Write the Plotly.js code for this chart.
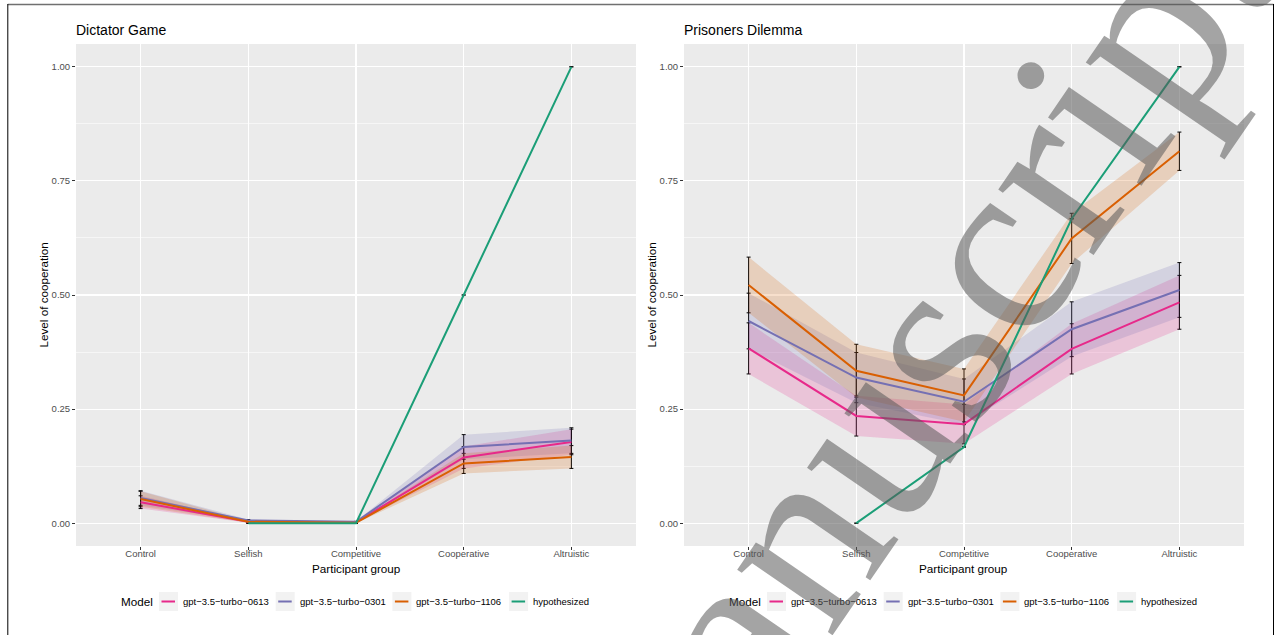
<!DOCTYPE html>
<html>
<head>
<meta charset="utf-8">
<script src="https://cdn.plot.ly/plotly-3.0.1.min.js"></script>
<style>
html,body{margin:0;padding:0;overflow:hidden;background:#ffffff;}
#chart{width:1276px;height:635px;overflow:hidden;}
</style>
</head>
<body>
<div id="chart"></div>
<script>
// ---------- data ----------
const categories = ['Control', 'Selfish', 'Competitive', 'Cooperative', 'Altruistic'];
const models = ['gpt\u22123.5\u2212turbo\u22120613', 'gpt\u22123.5\u2212turbo\u22120301', 'gpt\u22123.5\u2212turbo\u22121106', 'hypothesized'];

// Dictator Game: mean level of cooperation and standard error
const dgMean0613 = [0.046, 0.003, 0.002, 0.144, 0.178];
const dgSe0613   = [0.014, 0.002, 0.001, 0.024, 0.028];
const dgMean0301 = [0.055, 0.006, 0.003, 0.167, 0.181];
const dgSe0301   = [0.016, 0.002, 0.001, 0.027, 0.028];
const dgMean1106 = [0.053, 0.003, 0.001, 0.131, 0.145];
const dgSe1106   = [0.017, 0.002, 0.001, 0.022, 0.025];
const dgHyp      = [null, 0, 0, 0.5, 1.0];
const dgHypSe    = [0, 0, 0, 0, 0];

// Prisoners Dilemma
const pdMean0613 = [0.383, 0.235, 0.217, 0.382, 0.484];
const pdSe0613   = [0.056, 0.044, 0.043, 0.055, 0.059];
const pdMean0301 = [0.443, 0.319, 0.266, 0.425, 0.511];
const pdSe0301   = [0.061, 0.055, 0.050, 0.060, 0.060];
const pdMean1106 = [0.522, 0.334, 0.280, 0.624, 0.815];
const pdSe1106   = [0.061, 0.058, 0.058, 0.055, 0.042];
const pdHyp      = [null, 0, 0.167, 0.667, 1.0];
const pdHypSe    = [0, 0, 0, 0, 0];

const yTicks = [0, 0.25, 0.5, 0.75, 1.0];

// ---------- style ----------
const colors = ['#E7298A', '#7570B3', '#D95F02', '#1B9E77'];
const ribbonColors = ['rgba(231,41,138,0.2)', 'rgba(117,112,179,0.2)', 'rgba(217,95,2,0.2)'];
const W = 1276, H = 635;
const px = x => x / W;
const py = y => 1 - y / H;

function panelTraces(xa, ya, means, ses) {
  const traces = [];
  // error bars (drawn first, below ribbons)
  means.forEach((m, i) => {
    traces.push({
      x: categories, y: m, xaxis: xa, yaxis: ya, mode: 'markers', type: 'scatter',
      marker: {size: 1, opacity: 0},
      error_y: {type: 'data', array: ses[i], visible: true, color: '#000000', thickness: 1, width: 2},
      showlegend: false, hoverinfo: 'skip'
    });
  });
  // ribbons (mean +/- se) for the model series
  for (let i = 0; i < 3; i++) {
    const upper = means[i].map((v, k) => v + ses[i][k]);
    const lower = means[i].map((v, k) => v - ses[i][k]);
    traces.push({
      x: categories.concat(categories.slice().reverse()),
      y: upper.concat(lower.slice().reverse()),
      xaxis: xa, yaxis: ya, type: 'scatter', mode: 'lines', fill: 'toself',
      fillcolor: ribbonColors[i], line: {width: 0, color: 'rgba(0,0,0,0)'},
      showlegend: false, hoverinfo: 'skip'
    });
  }
  // lines
  means.forEach((m, i) => {
    traces.push({
      x: categories, y: m, xaxis: xa, yaxis: ya, type: 'scatter', mode: 'lines',
      name: models[i], line: {color: colors[i], width: 2}, showlegend: false
    });
  });
  return traces;
}

const data = []
  .concat(panelTraces('x', 'y', [dgMean0613, dgMean0301, dgMean1106, dgHyp], [dgSe0613, dgSe0301, dgSe1106, dgHypSe]))
  .concat(panelTraces('x2', 'y2', [pdMean0613, pdMean0301, pdMean1106, pdHyp], [pdSe0613, pdSe0301, pdSe1106, pdHypSe]));

const font = 'Liberation Sans, Arial, Helvetica, sans-serif';

function xAxis(domain, anchor) {
  return {
    domain: domain, anchor: anchor, type: 'category', categoryorder: 'array', categoryarray: categories,
    range: [-0.6, 4.6], showgrid: true, gridcolor: '#ffffff', gridwidth: 1.07, zeroline: false, showline: false,
    ticks: 'outside', ticklen: 3, tickwidth: 1, tickcolor: '#333333', ticklabelstandoff: -4,
    tickfont: {family: font, size: 9.5, color: '#4d4d4d'}, fixedrange: true
  };
}
function yAxis(domain, anchor) {
  return {
    domain: domain, anchor: anchor, range: [-0.05, 1.05], tickmode: 'array', tickvals: yTicks, tickformat: '.2f',
    showgrid: true, gridcolor: '#ffffff', gridwidth: 1.07, zeroline: false, showline: false,
    minor: {tickmode: 'linear', tick0: 0.125, dtick: 0.25, showgrid: true, gridcolor: '#ffffff', gridwidth: 0.55, ticks: ''},
    ticks: 'outside', ticklen: 3, tickwidth: 1, tickcolor: '#333333',
    tickfont: {family: font, size: 9.5, color: '#4d4d4d'}, fixedrange: true
  };
}

const yDom = [py(546), py(44)];
const panelLeft = [76, 684];
const panelRight = [636, 1244];
const titles = ['Dictator Game', 'Prisoners Dilemma'];

const annotations = [];
const shapes = [];

panelLeft.forEach((L, p) => {
  const R = panelRight[p];
  annotations.push({text: titles[p], x: px(L - 2), y: py(30), xref: 'paper', yref: 'paper', xanchor: 'left', yanchor: 'middle',
    showarrow: false, font: {family: font, size: 14, color: '#000'}});
  annotations.push({text: 'Level of cooperation', x: px(L - 33.5), y: py(295), xref: 'paper', yref: 'paper', xanchor: 'center', yanchor: 'middle',
    textangle: -90, showarrow: false, font: {family: font, size: 11.7, color: '#000'}});
  annotations.push({text: 'Participant group', x: px((L + R) / 2), y: py(568), xref: 'paper', yref: 'paper', xanchor: 'center', yanchor: 'middle',
    showarrow: false, font: {family: font, size: 11.7, color: '#000'}});
  // legend
  const legX = L + 42.7;
  annotations.push({text: 'Model', x: px(legX), y: py(601), xref: 'paper', yref: 'paper', xanchor: 'left', yanchor: 'middle',
    showarrow: false, font: {family: font, size: 11.7, color: '#000'}});
  models.forEach((m, i) => {
    const bx = L + 83 + i * 116.7;
    shapes.push({type: 'rect', xref: 'paper', yref: 'paper', x0: px(bx), x1: px(bx + 19), y0: py(611), y1: py(592),
      fillcolor: '#f2f2f2', line: {width: 0}});
    shapes.push({type: 'line', xref: 'paper', yref: 'paper', x0: px(bx + 2.5), x1: px(bx + 16), y0: py(601.5), y1: py(601.5),
      line: {color: colors[i], width: 2}});
    annotations.push({text: m, x: px(bx + 22), y: py(601.5), xref: 'paper', yref: 'paper', xanchor: 'left', yanchor: 'middle',
      showarrow: false, font: {family: font, size: 9.5, color: '#000'}});
  });
});

// page frame
shapes.push({type: 'line', xref: 'paper', yref: 'paper', x0: px(7.8), x1: px(1273.5), y0: py(4.5), y1: py(4.5), line: {color: '#707070', width: 1.5}});
shapes.push({type: 'line', xref: 'paper', yref: 'paper', x0: px(7.8), x1: px(7.8), y0: py(4), y1: py(640), line: {color: '#000', width: 1}});
shapes.push({type: 'line', xref: 'paper', yref: 'paper', x0: px(1273.5), x1: px(1273.5), y0: py(4), y1: py(640), line: {color: '#000', width: 1}});

// watermark
annotations.push({text: 'manuscript', x: px(902), y: py(384), xref: 'paper', yref: 'paper', xanchor: 'center', yanchor: 'middle',
  textangle: -55.5, showarrow: false, font: {family: 'Liberation Serif, Times New Roman, serif', size: 252, color: 'rgba(90,90,90,0.55)'}});

const layout = {
  width: W, height: H, autosize: false,
  margin: {l: 0, r: 0, t: 0, b: 0, pad: 0},
  paper_bgcolor: '#ffffff', plot_bgcolor: '#EBEBEB',
  showlegend: false,
  font: {family: font},
  xaxis: xAxis([px(76), px(636)], 'y'),
  yaxis: yAxis(yDom, 'x'),
  xaxis2: xAxis([px(684), px(1244)], 'y2'),
  yaxis2: yAxis(yDom, 'x2'),
  annotations: annotations,
  shapes: shapes
};

Plotly.newPlot('chart', data, layout, {staticPlot: true, displayModeBar: false});
</script>
</body>
</html>
